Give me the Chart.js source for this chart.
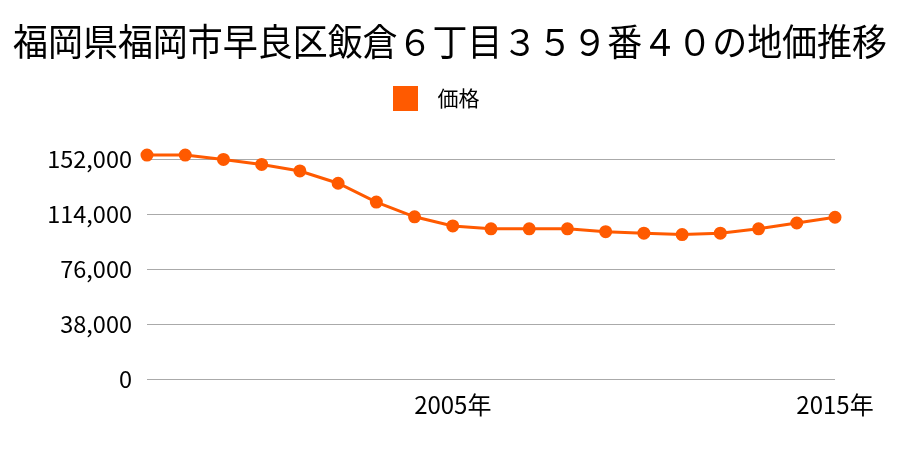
<!DOCTYPE html>
<html>
<head>
<meta charset="utf-8">
<script src="https://cdn.jsdelivr.net/npm/chart.js@4"></script>
<style>
  body { margin: 0; background: #fff; }
</style>
</head>
<body>
<canvas id="chart" width="900" height="450"></canvas>
<script>
const years = [1997, 1998, 1999, 2000, 2001, 2002, 2003, 2004, 2005, 2006,
               2007, 2008, 2009, 2010, 2011, 2012, 2013, 2014, 2015];
const prices = [155000, 155000, 152000, 148500, 144000, 135500, 122500, 112300, 106000, 104000,
                104000, 104000, 102000, 101000, 100000, 101000, 104000, 108000, 112000];
const yTicks = [0, 38000, 76000, 114000, 152000];
const shownYears = [2005, 2015];

const font = '"Noto Sans CJK JP", "Noto Sans", sans-serif';
const orange = 'rgb(255, 90, 0)';

// extra room under the legend, and re-centre the title on the full width
const tweaks = {
    id: 'tweaks',
    beforeInit(chart) {
        const fit = chart.legend.fit;
        chart.legend.fit = function () {
            fit.bind(chart.legend)();
            this.height += 40;
        };
    },
    afterLayout(chart) {
        chart.titleBlock.left += 13;
        chart.titleBlock.right += 13;
    },
};

const ctx = document.getElementById('chart').getContext('2d');
new Chart(ctx, {
    type: 'line',
    data: {
        labels: years,
        datasets: [{
            label: '価格',
            data: prices,
            borderColor: orange,
            backgroundColor: orange,
            pointBackgroundColor: orange,
            pointBorderColor: orange,
            pointRadius: 5,
            borderWidth: 3,
            tension: 0,
            clip: false,
        }]
    },
    plugins: [tweaks],
    options: {
        responsive: false,
        animation: false,
        layout: { padding: { top: 8, right: 26, bottom: 28, left: 0 } },
        plugins: {
            title: {
                display: true,
                text: '福岡県福岡市早良区飯倉６丁目３５９番４０の地価推移',
                color: '#000',
                font: { family: font, size: 37, weight: 'normal' },
                padding: { top: 12, bottom: 13 },
            },
            legend: {
                labels: {
                    color: '#000',
                    font: { family: font, size: 21 },
                    boxWidth: 22,
                    boxHeight: 22,
                    padding: 10,
                    generateLabels: (chart) =>
                        Chart.defaults.plugins.legend.labels.generateLabels(chart)
                            .map(l => ({ ...l, text: '\u2002' + l.text })),
                },
            },
            tooltip: { enabled: false },
        },
        scales: {
            x: {
                offset: false,
                grid: { display: false },
                border: { display: false },
                afterFit: (s) => { s.paddingLeft = 0; s.paddingRight = 0; },
                ticks: {
                    color: '#000',
                    font: { family: font, size: 24 },
                    autoSkip: false,
                    maxRotation: 0,
                    padding: 3,
                    callback: function (val) {
                        const y = years[val];
                        return shownYears.includes(y) ? y + '年' : null;
                    },
                },
            },
            y: {
                min: 0,
                max: 152000,
                afterFit: (scale) => { scale.width = 147; },
                afterBuildTicks: (scale) => { scale.ticks = yTicks.map(v => ({ value: v })); },
                grid: { color: '#aaa', drawTicks: false },
                border: { display: false },
                ticks: {
                    color: '#000',
                    font: { family: font, size: 23.5 },
                    padding: 15,
                    callback: (v) => v.toLocaleString('en-US'),
                },
            },
            y2: {
                position: 'right',
                grid: { display: false },
                border: { display: false },
                ticks: { display: false },
                afterFit: (scale) => { scale.width = 39; },
            },
        },
    },
});
</script>
</body>
</html>
